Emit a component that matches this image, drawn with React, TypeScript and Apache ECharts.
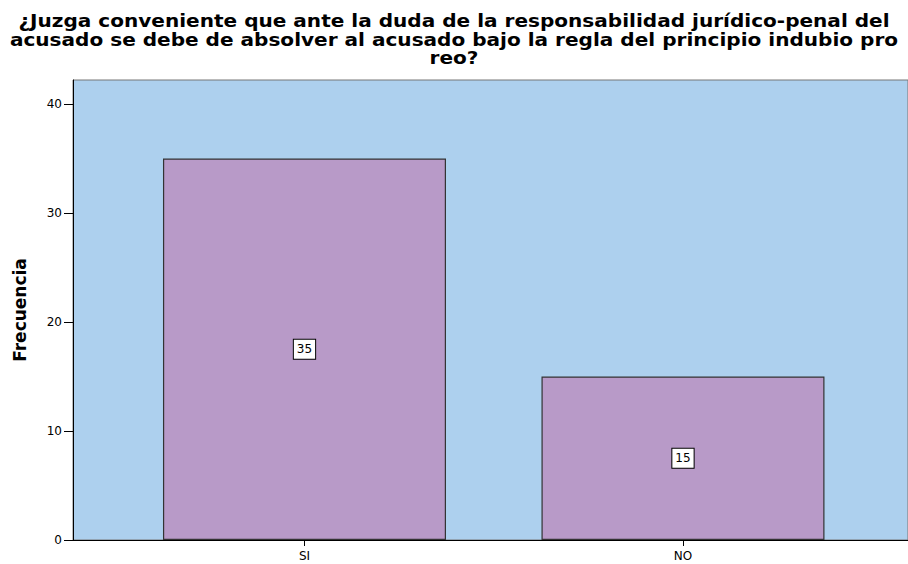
import React, { useEffect, useRef } from "react";
import * as echarts from "echarts";

const titleLines = [
  "¿Juzga conveniente que ante la duda de la responsabilidad jurídico-penal del",
  "acusado se debe de absolver al acusado bajo la regla del principio indubio pro",
  "reo?",
];
const categories = ["SI", "NO"];
const frequencies = [35, 15];
const yTicks = [0, 10, 20, 30, 40];
const yAxisName = "Frecuencia";

const FONT = "'DejaVu Sans', Verdana, sans-serif";

export default function App() {
  const ref = useRef<HTMLDivElement>(null);

  useEffect(() => {
    if (!ref.current) return;
    const chart = echarts.init(ref.current, undefined, { renderer: "svg" });
    const xPositions = categories.map((_, i) => i);

    // title lines: wide, bold face, 18.5px line pitch, centred on the page
    const titleTexts = titleLines.map((line, i) => ({
      type: "text",
      x: 454,
      y: 20.8 + i * 18.5,
      scaleX: 1.115,
      style: {
        text: line,
        font: `bold 18px ${FONT}`,
        fill: "#000",
        align: "center",
        verticalAlign: "middle",
      },
    }));

    chart.setOption({
      animation: false,
      backgroundColor: "#ffffff",
      graphic: titleTexts,
      grid: {
        left: 73,
        top: 80,
        right: 0,
        bottom: 24,
        show: true,
        backgroundColor: "#ADD0EE",
        borderColor: "#777",
        borderWidth: 1,
      },
      xAxis: {
        type: "value",
        min: -0.6116,
        max: 1.5945,
        splitLine: { show: false },
        axisLine: { show: true, onZero: false, lineStyle: { color: "#000", width: 1 } },
        axisTick: {
          show: true,
          customValues: xPositions,
          length: 6,
          lineStyle: { color: "#000" },
        },
        axisLabel: {
          customValues: xPositions,
          formatter: (v: number) => categories[Math.round(v)] ?? "",
          fontFamily: FONT,
          fontSize: 12,
          color: "#000",
          margin: 10,
        },
      },
      yAxis: {
        type: "value",
        min: 0,
        max: 42.2,
        name: yAxisName,
        nameLocation: "middle",
        nameRotate: 90,
        nameGap: 45,
        nameTextStyle: {
          fontFamily: FONT,
          fontSize: 17,
          fontWeight: "bold",
          color: "#000",
        },
        splitLine: { show: false },
        axisLine: { show: true, onZero: false, lineStyle: { color: "#000", width: 1 } },
        axisTick: {
          show: true,
          customValues: yTicks,
          length: 9,
          lineStyle: { color: "#000" },
        },
        axisLabel: {
          customValues: yTicks,
          fontFamily: FONT,
          fontSize: 12,
          color: "#000",
          margin: 11,
        },
      },
      series: [
        {
          type: "bar",
          data: frequencies.map((v, i) => [xPositions[i], v]),
          barWidth: 283,
          itemStyle: {
            color: "#B89AC8",
            borderColor: "#333",
            borderWidth: 1.2,
          },
          label: {
            show: true,
            position: "inside",
            formatter: (p: any) => String(p.value[1]),
            fontFamily: FONT,
            fontSize: 12,
            color: "#000",
            backgroundColor: "#fff",
            borderColor: "#000",
            borderWidth: 1,
            padding: [4, 3, 3, 3],
          },
        },
      ],
    });

    return () => chart.dispose();
  }, []);

  return (
    <div
      ref={ref}
      style={{ position: "absolute", left: 0, top: 0, width: 908, height: 564 }}
    />
  );
}
